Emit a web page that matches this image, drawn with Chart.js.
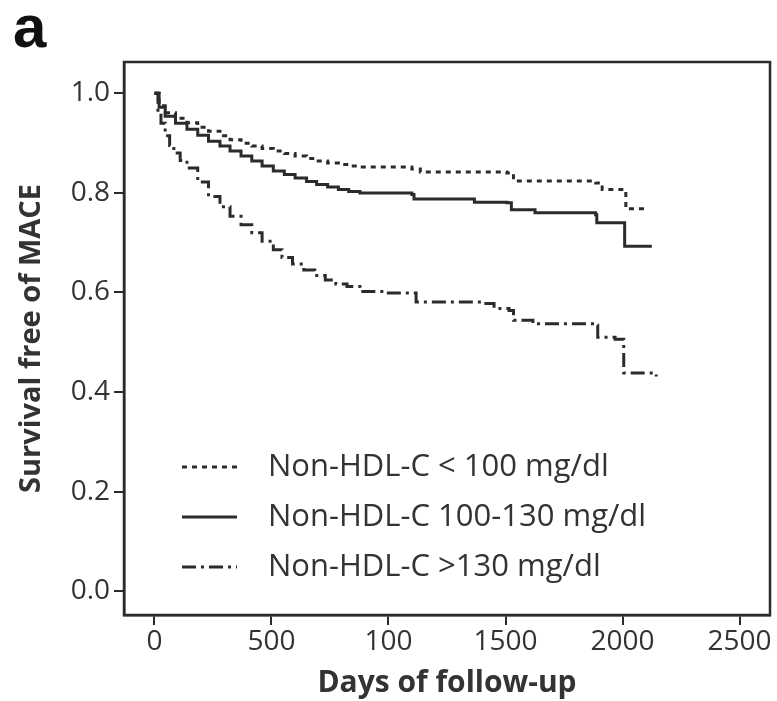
<!DOCTYPE html>
<html>
<head>
<meta charset="utf-8">
<script src="https://cdn.jsdelivr.net/npm/chart.js@4"></script>
<style>
  html, body { margin: 0; padding: 0; background: #fff; }
  #wrap { position: relative; width: 777px; height: 701px; }
</style>
</head>
<body>
<div id="wrap"><canvas id="km" width="777" height="701"></canvas></div>
<script>
// Kaplan-Meier curves, values
const seriesNames = ['Non-HDL-C < 100 mg/dl', 'Non-HDL-C 100-130 mg/dl', 'Non-HDL-C >130 mg/dl'];

const lowDays = [0, 20, 46, 90, 139, 185, 231, 280, 323, 370, 416, 460, 508, 555, 601, 650, 693, 740, 786, 830, 878, 1100, 1136, 1506, 1534, 1885, 1913, 2005, 2014, 2107];
const lowSurv = [1.0, 0.975, 0.961, 0.950, 0.941, 0.932, 0.924, 0.915, 0.907, 0.900, 0.894, 0.889, 0.884, 0.879, 0.874, 0.869, 0.864, 0.860, 0.857, 0.854, 0.852, 0.848, 0.842, 0.840, 0.824, 0.820, 0.807, 0.807, 0.768, 0.768];

const midDays = [0, 20, 46, 90, 139, 185, 231, 280, 323, 370, 416, 460, 508, 555, 601, 650, 693, 740, 786, 830, 878, 1100, 1109, 1358, 1367, 1506, 1525, 1626, 1885, 1890, 2005, 2009, 2125];
const midSurv = [1.0, 0.972, 0.954, 0.940, 0.928, 0.916, 0.904, 0.894, 0.884, 0.874, 0.864, 0.854, 0.844, 0.837, 0.830, 0.823, 0.817, 0.812, 0.807, 0.803, 0.800, 0.797, 0.788, 0.788, 0.781, 0.780, 0.766, 0.760, 0.756, 0.740, 0.740, 0.693, 0.693];

const highDays = [0, 15, 28, 46, 65, 83, 110, 139, 185, 231, 280, 323, 370, 416, 460, 508, 545, 590, 638, 685, 730, 775, 823, 878, 989, 1063, 1118, 1340, 1395, 1451, 1515, 1534, 1617, 1885, 1894, 1968, 2005, 2144];
const highSurv = [1.0, 0.960, 0.940, 0.915, 0.895, 0.880, 0.865, 0.850, 0.822, 0.793, 0.772, 0.753, 0.736, 0.720, 0.703, 0.686, 0.670, 0.657, 0.645, 0.634, 0.625, 0.617, 0.612, 0.602, 0.599, 0.599, 0.581, 0.581, 0.578, 0.568, 0.564, 0.544, 0.537, 0.534, 0.510, 0.506, 0.438, 0.431];

const xTickValues = [0, 500, 1000, 1500, 2000, 2500];
const xTickLabels = ['0', '500', '100', '1500', '2000', '2500'];
const yTickValues = [0, 0.2, 0.4, 0.6, 0.8, 1.0];

const ink = '#2b2b2b';
const textInk = '#333';
const dashes = [[5, 5], [], [14, 5, 3, 5]];

function toPoints(days, surv) {
    return days.map((d, i) => ({ x: d, y: surv[i] }));
}

// frame, panel letter and the legend sitting inside the plot
const decorations = {
    id: 'decorations',
    afterDraw(chart) {
        const ctx = chart.ctx;
        const a = chart.chartArea;
        ctx.save();
        ctx.strokeStyle = ink;
        ctx.lineWidth = 2.5;
        ctx.setLineDash([]);
        ctx.strokeRect(a.left, a.top, a.right - a.left, a.bottom - a.top);

        ctx.fillStyle = '#111';
        ctx.font = 'bold 60px "Liberation Sans", Arial, sans-serif';
        ctx.textBaseline = 'alphabetic';
        ctx.textAlign = 'left';
        ctx.fillText('a', 13, 47);

        ctx.font = '31px "Open Sans", sans-serif';
        ctx.textBaseline = 'middle';
        chart.data.datasets.forEach((ds, i) => {
            const y = 467 + i * 50;
            ctx.strokeStyle = ink;
            ctx.lineWidth = 3;
            ctx.setLineDash(i === 0 ? [5, 5] : (i === 2 ? [14, 5, 3, 5] : []));
            ctx.beginPath();
            ctx.moveTo(182, y);
            ctx.lineTo(237, y);
            ctx.stroke();
            ctx.fillStyle = textInk;
            ctx.fillText(ds.label, 268, y);
        });
        ctx.restore();
    }
};

const ctx = document.getElementById('km').getContext('2d');
const chart = new Chart(ctx, {
    type: 'line',
    data: {
        datasets: [
            { label: seriesNames[0], data: toPoints(lowDays, lowSurv), borderDash: dashes[0] },
            { label: seriesNames[1], data: toPoints(midDays, midSurv), borderDash: dashes[1] },
            { label: seriesNames[2], data: toPoints(highDays, highSurv), borderDash: dashes[2] }
        ].map(ds => Object.assign(ds, {
            borderColor: ink,
            borderWidth: 3,
            pointRadius: 0,
            stepped: true,
            fill: false
        }))
    },
    options: {
        responsive: false,
        animation: false,
        layout: { padding: { top: 62, right: 7, left: 0, bottom: 0 } },
        plugins: { legend: { display: false }, tooltip: { enabled: false } },
        scales: {
            x: {
                type: 'linear',
                min: -130,
                max: 2630,
                afterBuildTicks: s => { s.ticks = xTickValues.map(v => ({ value: v })); },
                afterFit: s => { s.height = 86; },
                grid: { drawOnChartArea: false, drawTicks: true, tickLength: 10, color: ink, lineWidth: 2 },
                border: { color: ink, width: 2.5 },
                ticks: {
                    color: textInk,
                    font: { family: '"Open Sans", sans-serif', size: 28 },
                    padding: 0,
                    maxRotation: 0,
                    callback: (v) => xTickLabels[xTickValues.indexOf(v)]
                },
                title: {
                    display: true,
                    text: 'Days of follow-up',
                    color: textInk,
                    font: { family: '"Open Sans", sans-serif', size: 30, weight: 'bold' },
                    padding: { top: 0, bottom: 0 }
                }
            },
            y: {
                min: -0.048,
                max: 1.063,
                afterBuildTicks: s => { s.ticks = yTickValues.map(v => ({ value: v })); },
                afterFit: s => { s.width = 124; },
                grid: { drawOnChartArea: false, drawTicks: true, tickLength: 10, color: ink, lineWidth: 2 },
                border: { color: ink, width: 2.5 },
                ticks: {
                    color: textInk,
                    font: { family: '"Open Sans", sans-serif', size: 28 },
                    padding: 4,
                    callback: v => v.toFixed(1)
                },
                title: {
                    display: true,
                    text: 'Survival free of MACE',
                    color: textInk,
                    font: { family: '"Open Sans", sans-serif', size: 29, weight: 'bold' },
                    padding: { top: 14, bottom: 0 }
                }
            }
        }
    },
    plugins: [decorations]
});
</script>
</body>
</html>
